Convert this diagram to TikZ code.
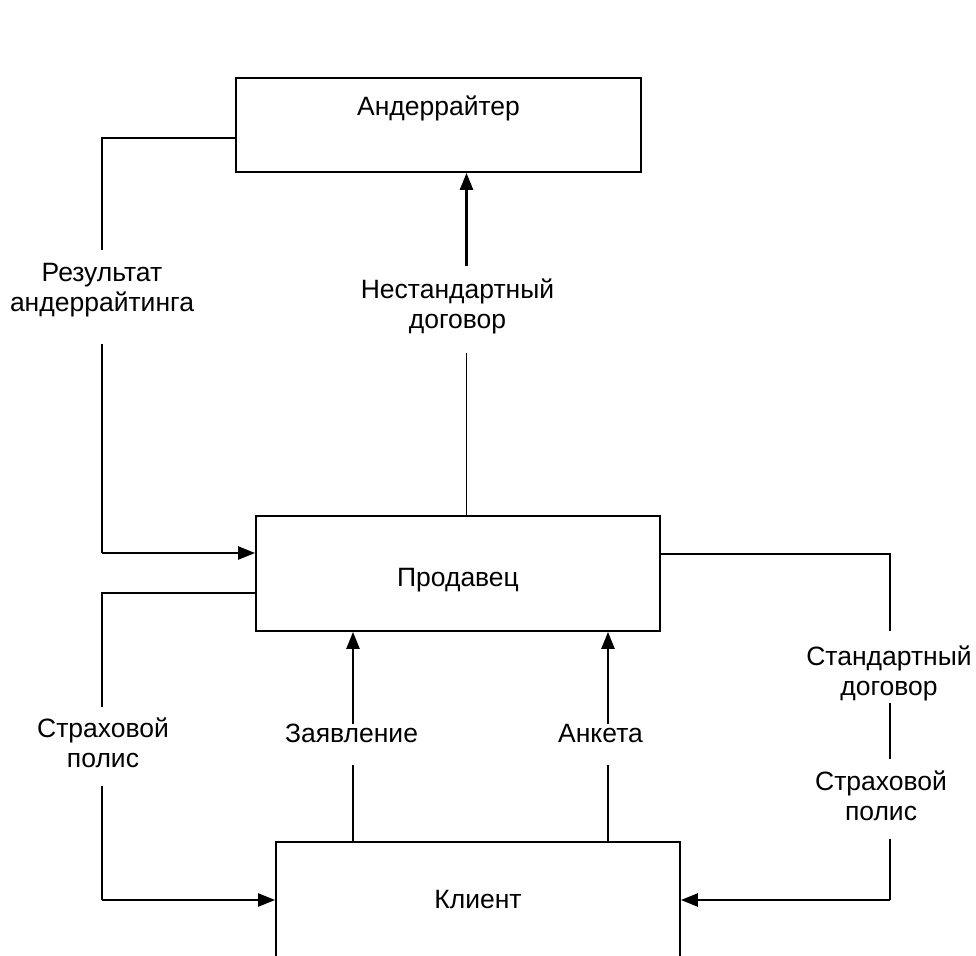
\documentclass[tikz,border=0pt]{standalone}
\usepackage{fontspec}
\setmainfont{Liberation Sans}
\usetikzlibrary{arrows.meta}

\begin{document}
\begin{tikzpicture}[x=1pt,y=-1pt,
  blok/.style={draw, line width=1.8pt, inner sep=0pt, minimum width=404pt,
    text height=19pt, text depth=3pt, font=\fontsize{26.5}{30}\selectfont},
  lbl/.style={inner sep=0pt, align=center, font=\fontsize{26.5}{30}\selectfont},
  ln/.style={line width=1.4pt},
  arr/.style={line width=2.4pt, -{Triangle[length=17pt,width=13pt]}}]
\useasboundingbox (0,0) rectangle (976,955);
\clip (0,0) rectangle (976,955);

% boxes
\node[blok, minimum width=405pt, minimum height=94pt, text depth=37pt] (und) at (438.5,125) {Андеррайтер};
\node[blok, minimum height=115pt, text height=29pt] (prod) at (458,573.5) {Продавец};
\node[blok, minimum height=116pt] (kl) at (478,900) {Клиент};

% labels
\node[lbl] (resLbl) at (102,290) {Результат\\андеррайтинга};
\node[lbl] (nstLbl) at (457.5,306) {Нестандартный\\договор};
\node[lbl] (polLLbl) at (103,742.5) {Страховой\\полис};
\node[lbl] (zayLbl) at (351.5,733.5) {Заявление};
\node[lbl] (ankLbl) at (600.5,733.5) {Анкета};
\node[lbl] (stdLbl) at (889,673) {Стандартный\\договор};
\node[lbl] (polRLbl) at (881,795.5) {Страховой\\полис};

% underwriter -> seller
\coordinate (resTop) at (102,138);
\coordinate (resBot) at (102,553);
\draw[ln, shorten >=13pt] (und.west |- resTop) -- (resTop) -- (resTop |- resLbl.north);
\draw[ln, shorten <=26.5pt] (resTop |- resLbl.south) -- (resBot);
\draw[arr] (resBot) -- (resBot -| prod.west);

% seller -> underwriter
\coordinate (nstLine) at (466.5,300);
\draw[ln, shorten >=19.5pt] (nstLine |- prod.north) -- (nstLine |- nstLbl.south);
\draw[arr, shorten <=12pt] (nstLine |- nstLbl.north) -- (nstLine |- und.south);

% seller -> client, left
\coordinate (polTop) at (102,593);
\draw[ln, shorten >=10pt] (prod.west |- polTop) -- (polTop) -- (polTop |- polLLbl.north);
\draw[ln, shorten <=18pt] (polTop |- polLLbl.south) -- (polTop |- kl.west);
\draw[arr] (polTop |- kl.west) -- (kl.west);

% client -> seller
\coordinate (zayLine) at (353,734);
\draw[ln, shorten >=22pt] (zayLine |- kl.north) -- (zayLine |- zayLbl.south);
\draw[arr] (zayLine |- zayLbl.north) -- (zayLine |- prod.south);
\coordinate (ankLine) at (608,734);
\draw[ln, shorten >=22pt] (ankLine |- kl.north) -- (ankLine |- ankLbl.south);
\draw[arr] (ankLine |- ankLbl.north) -- (ankLine |- prod.south);

% seller -> client, right
\coordinate (stdLine) at (890,554);
\draw[ln, shorten >=14pt] (prod.east |- stdLine) -- (stdLine) -- (stdLine |- stdLbl.north);
\draw[ln, shorten <=2.5pt, shorten >=11pt] (stdLine |- stdLbl.south) -- (stdLine |- polRLbl.north);
\draw[ln, shorten <=18pt] (stdLine |- polRLbl.south) -- (stdLine |- kl.east);
\draw[arr] (stdLine |- kl.east) -- (kl.east);
\end{tikzpicture}
\end{document}
